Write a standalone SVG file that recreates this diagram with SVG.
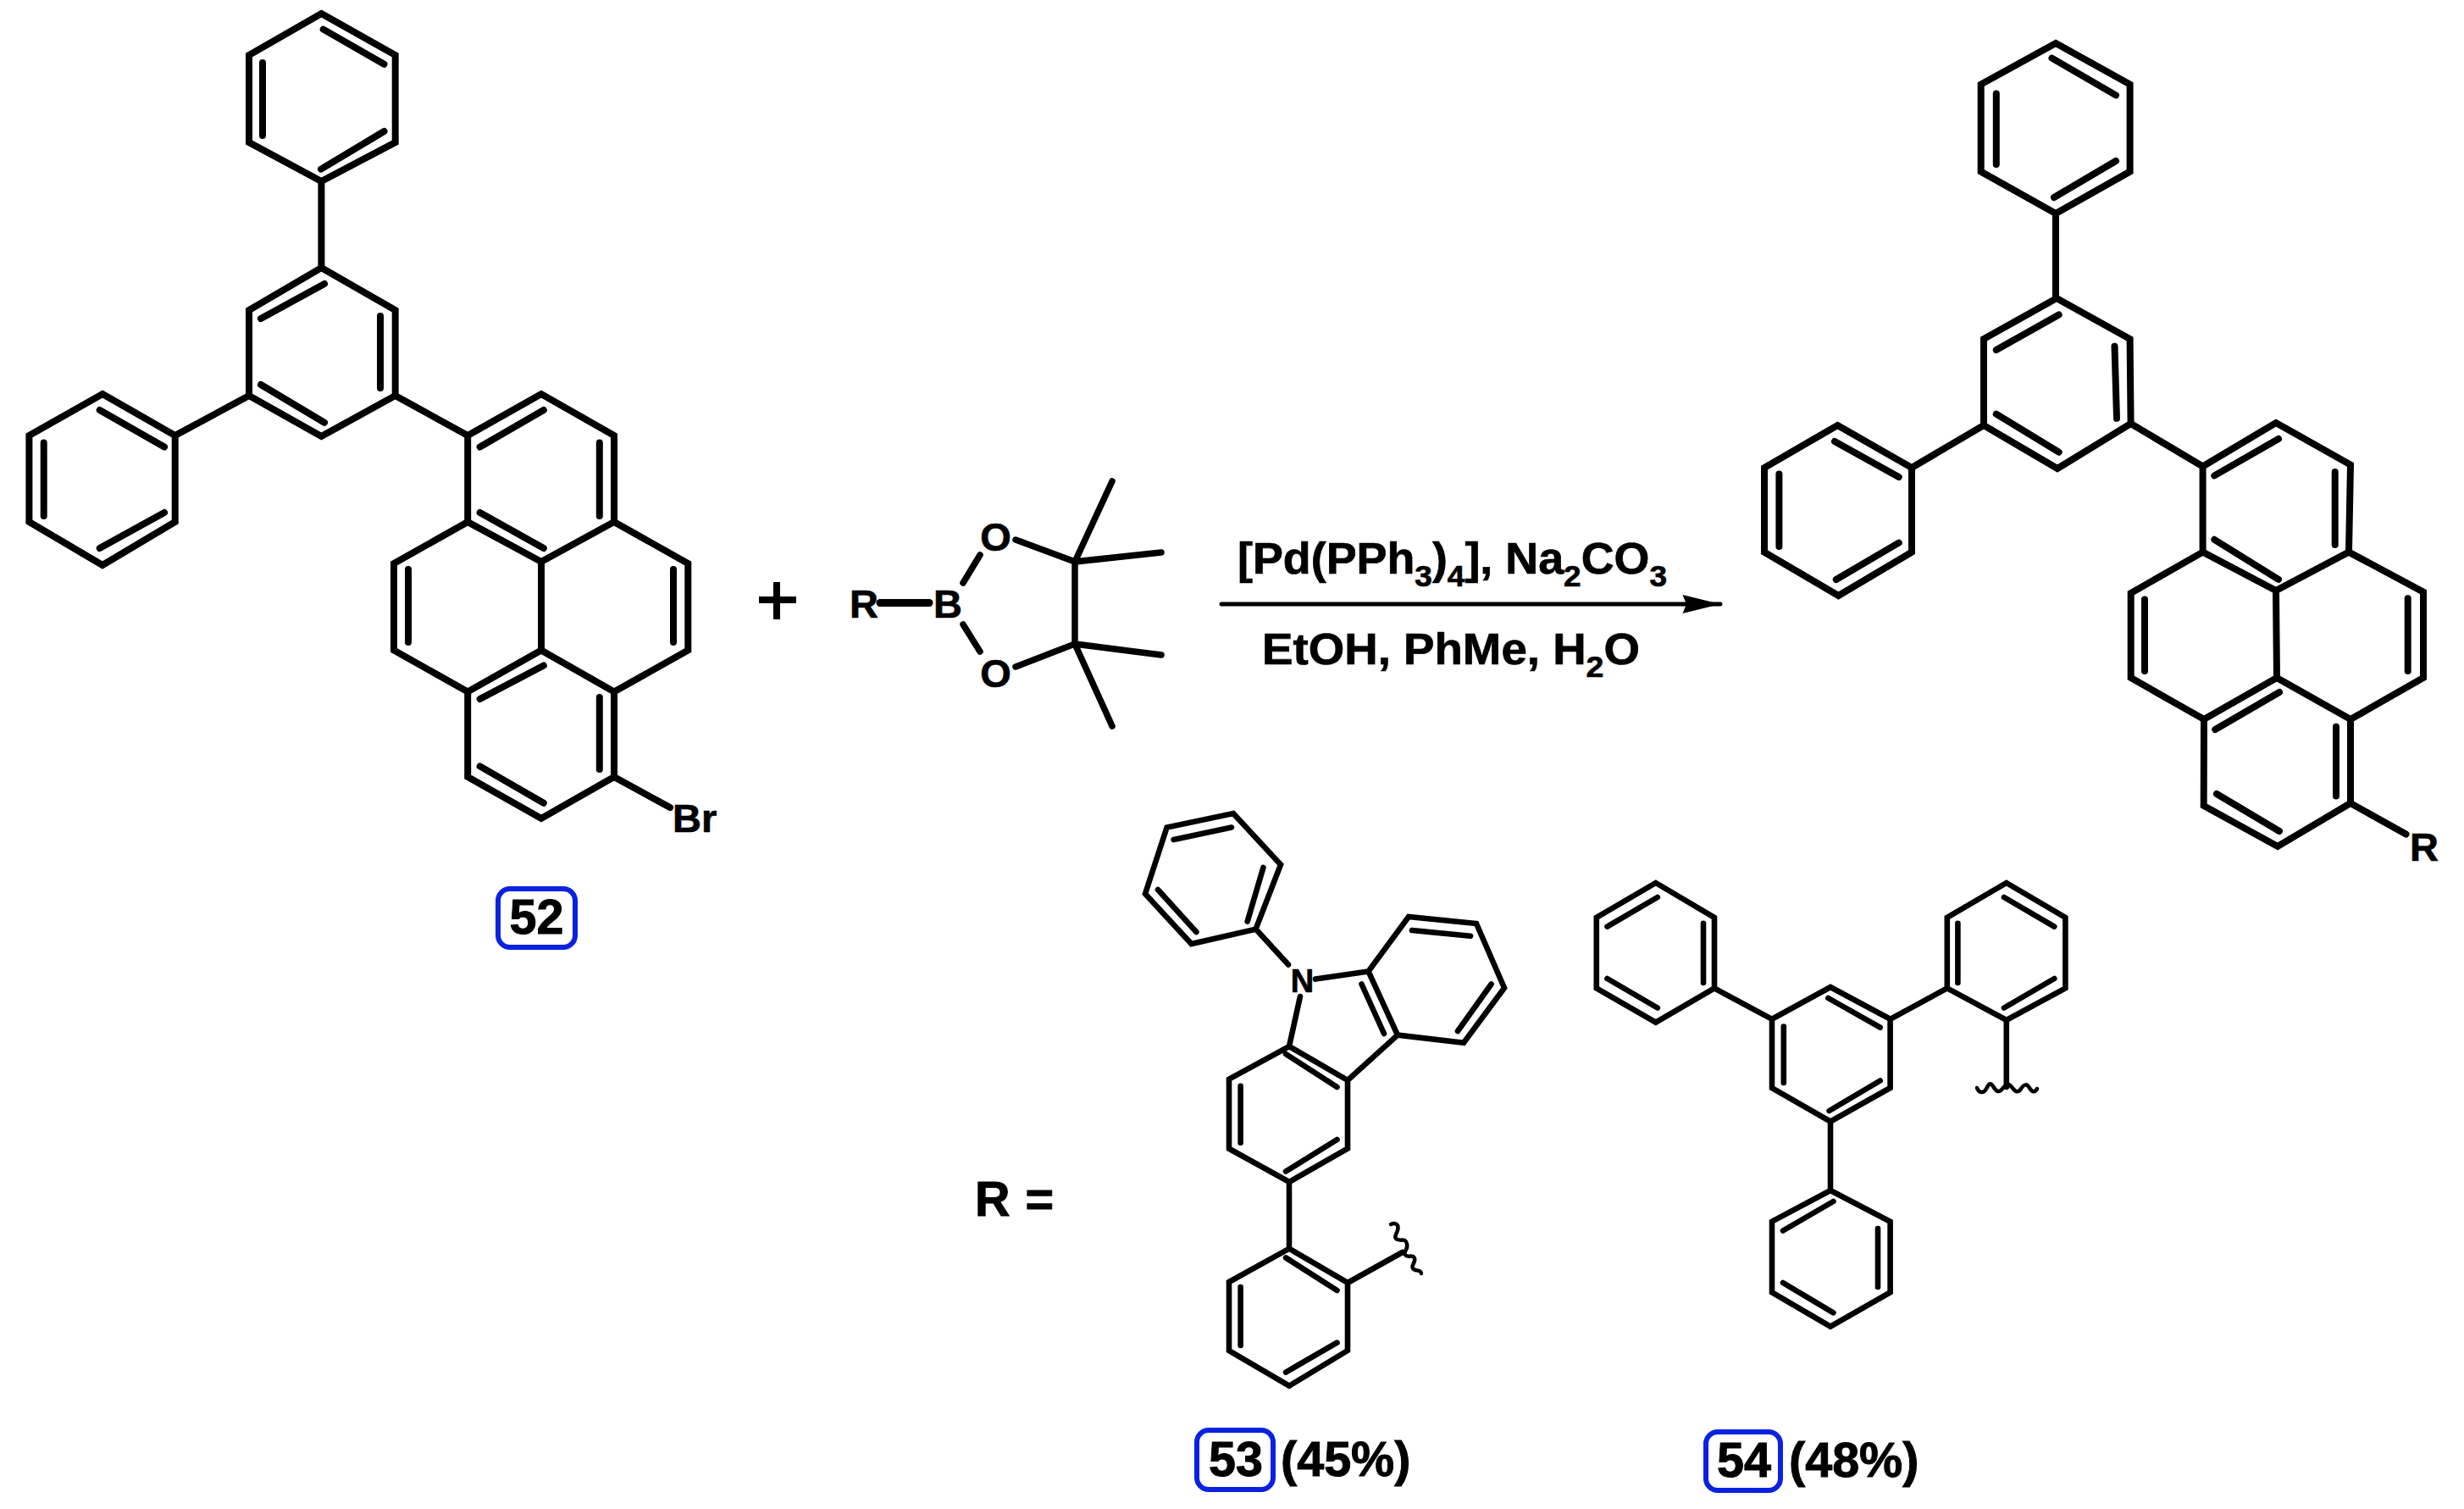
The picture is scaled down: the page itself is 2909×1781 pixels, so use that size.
<svg xmlns="http://www.w3.org/2000/svg" width="2909" height="1781" viewBox="0 0 2909 1781">
<style>
text{font-family:"Liberation Sans",Arial,sans-serif;font-weight:700;fill:#000;stroke:#000;stroke-width:.7}
.b,.s{fill:none;stroke:#000;stroke-linecap:round;stroke-linejoin:miter}
.b{stroke-width:8}
.s{stroke-width:6.6}
.box{fill:#fff;stroke:#0a22e0;stroke-width:6}
.a{font-size:47px}
.l{font-size:57.5px;stroke-width:1}
.c{font-size:51px}
.sb{font-size:35px}
.w{fill:none;stroke:#000;stroke-width:4.5;stroke-linecap:round}
</style>
<defs>
<marker id="head" markerUnits="userSpaceOnUse" markerWidth="48" markerHeight="28" refX="46" refY="14" orient="auto">
<path d="M1.500 3L46 14L1.500 25L6 14Z" fill="#000"/>
</marker>
</defs>
<rect width="2909" height="1781" fill="#fff"/>
<g id="connectors">
<line x1="1442" y1="713" x2="2031" y2="713" stroke="#000" stroke-width="5" stroke-linecap="round" marker-end="url(#head)"/>
</g>
<g id="compound-52">
<path class="b" d="M379.4 16L466.7 65V168L379.4 214L294 168V65ZM379.4 214V316M379.4 316L466.7 366V467L379.4 515L294 467V366ZM294 467L206.7 514M121 465L206.7 514V616L121 667L34.4 616V514ZM466.7 467L552.2 514M552.2 514L639 465L725 514V616L639 663L552.2 616ZM552.2 616L465 665V767.500L552.2 816.500L639 767.500V663M725 616L812.300 665V767.500L725 816.500L639 767.500M552.2 816.500V917L639 966L725 917V816.500M725 917L791 953"/>
<path class="b" d="M381.700 34.600L453.500 75.700M310 74V160M379 199.600L453.500 155M308 376L383 335M449 373V458M308 454L383 498.700M117.700 484L194 527.500M51.700 522.500V609M117.700 647L194 605M566.600 527.500L641.800 484M707.800 522.500V609M566.600 605L641.800 647M482 672V758M795 672V758M566.600 825L641.800 785.500M707.800 823V908M566.600 904.400L641.800 947.700"/>
<text class="a" x="794" y="981.500">Br</text>
<rect class="box" x="588" y="1049" width="91" height="69" rx="14"/>
<text class="l" x="633.500" y="1102" text-anchor="middle">52</text>
</g>
<g id="plus"><path d="M896 708H940M917 687V731" fill="none" stroke="#000" stroke-width="8"/></g>
<g id="boronate">
<text class="a" x="1003" y="729">R</text>
<text class="a" x="1102" y="729">B</text>
<text class="a" x="1175.500" y="650" text-anchor="middle">O</text>
<text class="a" x="1175.500" y="811" text-anchor="middle">O</text>
<path class="s" d="M1039 711.500H1097" style="stroke-width:9"/>
<path class="s" d="M1137 688L1157 655M1137 737L1157 769M1199 637L1269 663V760L1199 787M1269 663L1313 568M1269 663L1371 652M1269 760L1371 773M1269 760L1313 857" style="stroke-width:7.500"/>
</g>
<g id="conditions">
<text class="c" x="1461" y="677" textLength="507" lengthAdjust="spacingAndGlyphs">[Pd(PPh<tspan class="sb" dy="15">3</tspan><tspan dy="-15">)</tspan><tspan class="sb" dy="15">4</tspan><tspan dy="-15">], Na</tspan><tspan class="sb" dy="15">2</tspan><tspan dy="-15">CO</tspan><tspan class="sb" dy="15">3</tspan></text>
<text class="c" x="1490" y="784" textLength="446" lengthAdjust="spacingAndGlyphs">EtOH, PhMe, H<tspan class="sb" dy="15">2</tspan><tspan dy="-15">O</tspan></text>
</g>
<g id="product">
<path class="b" d="M2427 51L2514.600 99.600V202.600L2427 252L2338.700 202.600V99.600ZM2427 252V352M2428 352L2514.600 400L2515.600 500L2429 553L2342 502V400ZM2342 502L2257 552M2169.400 502L2257 552V651.600L2170.500 703L2083 651.600V552ZM2515.600 500L2600.600 550.500M2600.600 550.500L2687 499L2775 548.500L2773 651.600L2687 697L2600.600 651.600ZM2600.600 651.600L2515.700 700V800L2602 849L2688 800L2687 697M2773 651.600L2861 698.600V800L2775 849L2688 800M2602 849L2601.700 951L2689 999L2775 948V849M2775 948L2840.500 984.600"/>
<path class="b" d="M2422.500 68.600L2498 112.400M2356.800 110.500V194M2425 233L2498 190M2356.800 413L2430.700 371.400M2496.500 408.700L2499 493.800M2356.800 488.600L2430.700 533.700M2166 521L2241.700 563M2100.400 559.500V645M2167.800 684L2241.700 640.600M2614.300 561.400L2690 518M2756.700 557V643M2614.300 636.800L2690 683.800M2532 707.600V792M2842.700 706.300V792M2615.300 861L2691 817M2758 857.700V939.500M2617 937L2691 981"/>
<text class="a" x="2845" y="1015.500">R</text>
</g>
<g id="r-label"><text class="l" x="1151" y="1434.500" textLength="93" lengthAdjust="spacing">R =</text></g>
<g id="compound-53">
<path class="s" d="M1456 960L1512 1020.500L1482.500 1096.600L1406.600 1114L1352 1055L1377.600 976.500ZM1482.500 1096.600L1521 1138.500M1553 1155.600L1615.500 1146.500M1615.500 1146.500L1663 1082L1743 1090L1776 1166L1728 1230.700L1650 1221.600ZM1535 1176L1522 1235M1522 1235L1591 1275V1355.700L1522 1395L1451 1355.700V1273.600ZM1591 1275L1650 1221.600M1522 1395V1473.700M1522 1473.700L1591 1514V1594L1522 1635.700L1451 1594V1513ZM1591 1514L1655.700 1478"/>
<path class="s" d="M1385.600 991L1454 976.500M1491.400 1024L1472.700 1087.500M1367 1050L1412.400 1100M1667 1098L1736 1104.700M1760.600 1161.500L1721 1217M1607.500 1161.500L1634 1220M1518 1244L1578.500 1283M1464.600 1281.700V1348.700M1518 1382.500L1578.500 1345M1518 1484.400L1578.500 1523M1464.600 1519V1588M1518 1619.600L1578.500 1584.700"/>
<path class="w" d="M1642 1445c6-3 10 1 8 7s-5 9 0 11s9-2 11 5s-5 9-2 13s9-1 11 4s-6 10-1 13s8 0 9 5"/>
<text x="1537.500" y="1170.600" text-anchor="middle" font-size="38">N</text>
<rect class="box" x="1413" y="1688" width="90" height="70" rx="14"/>
<text class="l" x="1459" y="1742" text-anchor="middle">53</text>
<text class="l" x="1512" y="1742">(45%)</text>
</g>
<g id="compound-54">
<path class="s" d="M1954.800 1042L2024 1082.800V1166.400L1954.800 1206.700L1884.800 1166.400V1082.800ZM2161 1165L2231.600 1202.800V1284L2161 1323.700L2092 1284V1202.800ZM2368.800 1042L2438.400 1082.800V1166.400L2368.800 1204L2298.800 1166.400V1082.800ZM2161 1405L2231.600 1441.700V1525.300L2161 1565.600L2092 1525.300V1441.700ZM2092 1202.800L2024 1166.400M2231.600 1202.800L2298.800 1166.400M2161 1323.700V1405M2368.800 1204V1283"/>
<path class="s" d="M1897.500 1093.600L1956.800 1059M2011 1089.700V1160M1897.500 1155L1956.800 1189.500M2158.400 1178L2219.700 1212.600M2105.800 1211.600V1278M2159.600 1311L2219.700 1275.500M2366 1059L2425.300 1093.600M2311.400 1089.700V1160M2366 1189.500L2425.300 1155M2105 1452.500L2164.400 1418M2217 1450V1519M2105 1514L2164.400 1549.400"/>
<path class="w" d="M2334 1284c2 6 8 7 11 1s5-8 8-3s6 9 11 3s7-7 11-2s7 8 11 2s7-6 10-1s6 6 9 1"/>
<rect class="box" x="2014" y="1690" width="88" height="69" rx="14"/>
<text class="l" x="2059" y="1743" text-anchor="middle">54</text>
<text class="l" x="2112" y="1743">(48%)</text>
</g>
</svg>
